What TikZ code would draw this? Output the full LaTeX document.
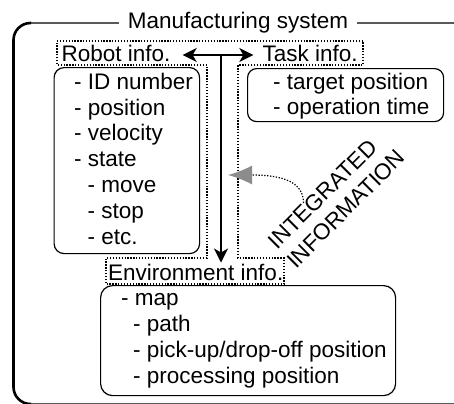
\documentclass[tikz,border=0pt]{standalone}
\usepackage{fontspec}
\setmainfont{Liberation Sans}
\usetikzlibrary{arrows.meta}
\begin{document}
\begin{tikzpicture}[x=1bp,y=-1bp,
  txt/.style={inner sep=0pt, anchor=base west, font=\fontsize{22.5bp}{26bp}\selectfont},
  listbox/.style={draw, line width=1.2bp, rounded corners=10bp, anchor=north west, inner sep=0pt},
  dotline/.style={line width=1.3bp, dash pattern=on 1.3bp off 1.6bp},
  bidir/.style={line width=1.5bp, {Stealth[length=14bp,width=14bp,inset=4bp]}-{Stealth[length=14bp,width=14bp,inset=4bp]}},
  onedir/.style={line width=1.5bp, -{Stealth[length=14bp,width=14bp,inset=4bp]}},
]
\useasboundingbox (0,0) rectangle (454,403);
% outer frame
\draw[line width=1.3bp, rounded corners=17bp] (13.5,23) rectangle (470,404);
\draw[line width=2.6bp, rounded corners=17bp] (31,23) -- (13.5,23) -- (13.5,404) -- (31,404);
\node[txt, anchor=base, fill=white, inner xsep=8.5bp, inner ysep=2bp] (title) at (238,28.3) {Manufacturing system};

% dotted outline of the integrated information
\draw[dotline] (57,41) -- (363,41) -- (363,65) -- (238,65) -- (238,258) -- (284,258)
  -- (284,284) -- (106,284) -- (106,258) -- (207,258) -- (207,65) -- (57,65) -- cycle;

% headers
\node[txt] (robot) at (61.5,61.5) {Robot info.};
\node[txt] (task) at (262.5,61.5) {Task info.};
\node[txt] (env) at (108,280.5) {Environment info.};

% boxes
\node[listbox, minimum width=145.5bp, minimum height=186bp] (robotbox) at (53.5,67) {};
\node[listbox, minimum width=196bp, minimum height=53bp, rounded corners=9bp] (taskbox) at (247,68) {};
\node[listbox, minimum width=295bp, minimum height=110bp, rounded corners=12bp] (envbox) at (100,285) {};

% robot items
\node[txt] (r1) at (74,89.3) {- ID number};
\node[txt] (r2) at (74,115) {- position};
\node[txt] (r3) at (74,140.8) {- velocity};
\node[txt] (r4) at (74,166.6) {- state};
\node[txt] (r5) at (87.5,192.4) {- move};
\node[txt] (r6) at (87.5,218.2) {- stop};
\node[txt] (r7) at (87.5,244) {- etc.};

% task items
\node[txt] (t1) at (273,89) {- target position};
\node[txt] (t2) at (273,114.5) {- operation time};

% environment items
\node[txt] (e1) at (121,305.5) {- map};
\node[txt] (e2) at (133,331.5) {- path};
\node[txt] (e3) at (133,357.5) {- pick-up/drop-off position};
\node[txt] (e4) at (133,383.5) {- processing position};

% arrows
\coordinate (hl) at (182.7,55);
\coordinate (hr) at (253.3,55);
\coordinate (hm) at (221,55);
\coordinate (vend) at (221,262.5);
\draw[bidir] (hl) -- (hr);
\draw[onedir] (hm) -- (vend);

% integrated information
\node[inner sep=0pt, align=left, rotate=45, font=\fontsize{22.5bp}{27bp}\selectfont]
  (integ) at (336.3,199.3) {INTEGRATED\\INFORMATION};
\coordinate (gs) at (303.5,203);
\coordinate (gt) at (228,175);
\draw[line width=1.2bp, dash pattern=on 1.3bp off 1.6bp, -{Latex[length=24bp,width=19bp,color=black!45]}]
  (gs) .. controls (303.5,183) and (285,175) .. (gt);
\end{tikzpicture}
\end{document}
